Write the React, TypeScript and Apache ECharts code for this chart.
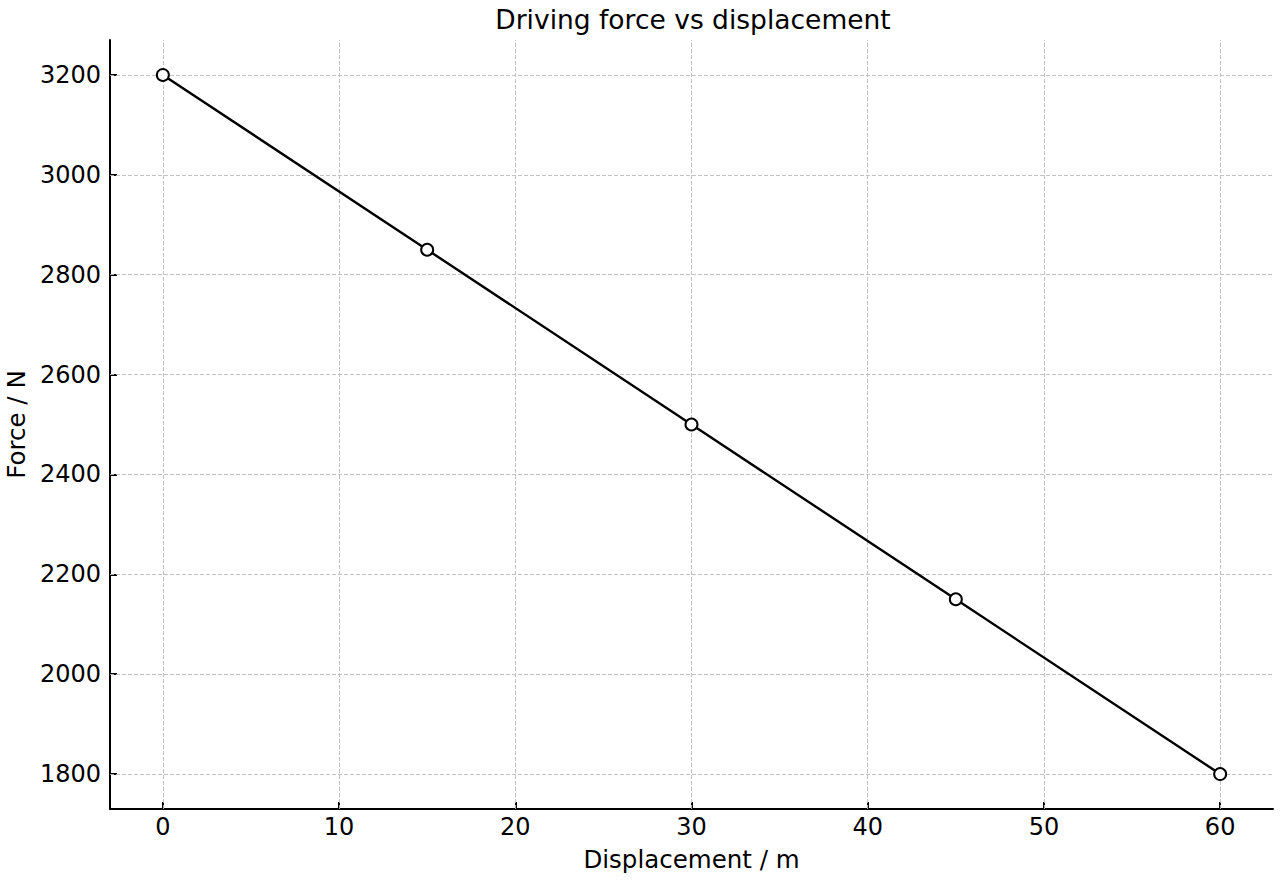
import React, { useEffect, useRef } from "react";
import * as echarts from "echarts";

const displacement = [0, 15, 30, 45, 60];
const force = [3200, 2850, 2500, 2150, 1800];
const xTicks = [0, 10, 20, 30, 40, 50, 60];
const yTicks = [1800, 2000, 2200, 2400, 2600, 2800, 3000, 3200];

const FONT = "DejaVu Sans";

export default function App() {
  const ref = useRef<HTMLDivElement>(null);
  useEffect(() => {
    if (!ref.current) return;
    const chart = echarts.init(ref.current, null, { renderer: "svg" });
    const gridStyle = { color: "#bcbcbc", width: 0.9, type: [4, 2] as any };
    chart.setOption({
      animation: false,
      backgroundColor: "#ffffff",
      textStyle: { fontFamily: FONT },
      title: {
        text: "Driving force vs displacement",
        left: 688,
        textAlign: "center",
        top: 1,
        textStyle: { fontFamily: FONT, fontSize: 26.5, fontWeight: "normal", color: "#000" },
      },
      grid: { left: 110, right: 7, top: 40, bottom: 71, containLabel: false, outerBoundsMode: "none" },
      xAxis: {
        type: "value",
        min: -3,
        max: 63,
        name: "Displacement / m",
        nameLocation: "middle",
        nameGap: 38,
        nameTextStyle: { fontFamily: FONT, fontSize: 24.5, color: "#000" },
        axisLine: { show: true, onZero: false, lineStyle: { color: "#000", width: 2 } },
        axisTick: { show: true, inside: true, length: 7, lineStyle: { color: "#000", width: 2 }, customValues: xTicks },
        axisLabel: { fontFamily: FONT, fontSize: 24, color: "#000", margin: 6, customValues: xTicks, formatter: (v: number) => String(v) },
        splitLine: { show: false },
      },
      yAxis: {
        type: "value",
        min: 1730,
        max: 3270,
        name: "Force / N",
        nameLocation: "middle",
        nameGap: 80,
        nameTextStyle: { fontFamily: FONT, fontSize: 24.5, color: "#000" },
        axisLine: { show: true, onZero: false, lineStyle: { color: "#000", width: 2 } },
        axisTick: { show: true, inside: true, length: 7, lineStyle: { color: "#000", width: 2 }, customValues: yTicks },
        axisLabel: { fontFamily: FONT, fontSize: 24, color: "#000", margin: 9, customValues: yTicks, formatter: (v: number) => String(v) },
        splitLine: { show: false },
      },
      series: [
        {
          type: "line",
          data: displacement.map((d, i) => [d, force[i]]),
          symbol: "circle",
          symbolSize: 12,
          lineStyle: { color: "#000", width: 2.4 },
          itemStyle: { color: "#fff", borderColor: "#000", borderWidth: 2 },
          z: 3,
          markLine: {
            silent: true,
            symbol: ["none", "none"],
            label: { show: false },
            lineStyle: gridStyle,
            z: 1,
            data: [
              ...xTicks.map((v) => ({ xAxis: v, lineStyle: gridStyle })),
              ...yTicks.map((v) => ({ yAxis: v, lineStyle: gridStyle })),
            ],
          },
        },
      ],
    });
    return () => chart.dispose();
  }, []);
  return (
    <div
      ref={ref}
      style={{ position: "absolute", left: 0, top: 0, width: 1280, height: 880 }}
    />
  );
}
